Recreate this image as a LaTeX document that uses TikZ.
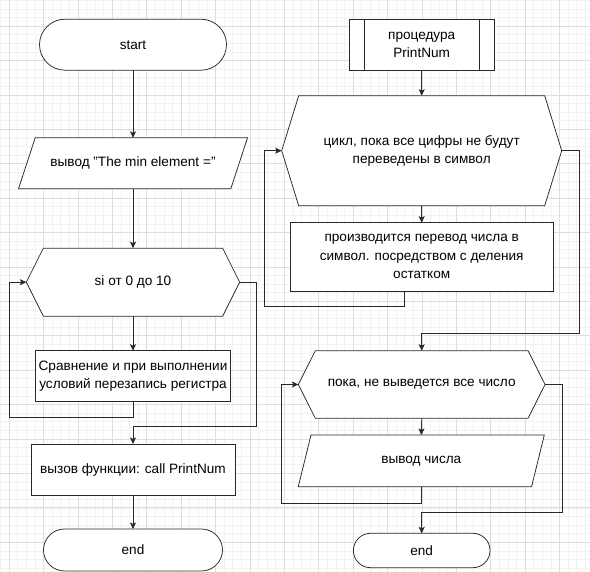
\documentclass[tikz,border=0pt]{standalone}
\usepackage{fontspec}
\setmainfont{Liberation Sans}
\usetikzlibrary{positioning,calc,shapes.misc,arrows.meta}

\definecolor{gridminor}{RGB}{242,242,242}
\definecolor{gridmajor}{RGB}{222,222,222}
\definecolor{linegray}{RGB}{40,40,40}

\tikzset{
	shapeline/.style={draw=linegray,line width=0.75pt},
	arr/.style={shapeline,-{Stealth[length=6.5pt,width=6pt,inset=1.5pt]}},
	txt/.style={font=\fontsize{13.6}{18.5}\selectfont,align=center,inner sep=0pt,outer sep=0pt},
	term/.style={txt,rounded rectangle,shapeline,fill=white},
	procbox/.style={txt,rectangle,shapeline,fill=white},
	subproc/.style={procbox,path picture={
		\draw[shapeline] ([xshift=14.7pt]path picture bounding box.north west) -- ([xshift=14.7pt]path picture bounding box.south west);
		\draw[shapeline] ([xshift=-14.7pt]path picture bounding box.north east) -- ([xshift=-14.7pt]path picture bounding box.south east);}},
	hexbox/.style={txt,append after command={\pgfextra{
		\filldraw[shapeline,fill=white] (\tikzlastnode.west) -- ([xshift=17pt]\tikzlastnode.north west) -- ([xshift=-17pt]\tikzlastnode.north east)
		 -- (\tikzlastnode.east) -- ([xshift=-17pt]\tikzlastnode.south east) -- ([xshift=17pt]\tikzlastnode.south west) -- cycle;}}},
	iobox/.style={txt,append after command={\pgfextra{
		\filldraw[shapeline,fill=white] ([xshift=#1]\tikzlastnode.north west) -- (\tikzlastnode.north east)
		 -- ([xshift=-#1]\tikzlastnode.south east) -- (\tikzlastnode.south west) -- cycle;}}},
}

\begin{document}
\begin{tikzpicture}[x=1pt,y=-1pt]
	\useasboundingbox[fill=white] (0,0) rectangle (590,572);
	% grid
	\foreach \k in {0,...,68} \draw[gridminor,line width=0.6pt] ({0.4+8.6*\k},0) -- ++(0,572);
	\foreach \k in {0,...,66} \draw[gridminor,line width=0.6pt] (0,{0.4+8.6*\k}) -- ++(590,0);
	\foreach \k in {0,...,16} \draw[gridmajor,line width=0.6pt] ({9+34.4*\k},0) -- ++(0,572);
	\foreach \k in {0,...,15} \draw[gridmajor,line width=0.6pt] (0,{26.2+34.4*\k}) -- ++(590,0);

	% main
	\node[term,minimum width=187,minimum height=51] (start) at (133,44.7) {start};
	\node[iobox=16.7pt,minimum width=229,minimum height=51] (outmsg) at (133,163.3) {вывод "The min element ="};
	\node[hexbox,minimum width=213.3,minimum height=68] (loopi) at (133,282.2) {si от 0 до 10};
	\node[procbox,minimum width=195,minimum height=51] (cmp) at (133,376.2) {Сравнение и при выполнении\\условий перезапись регистра};
	\node[procbox,minimum width=204,minimum height=51] (call) at (133,469.5) {вызов функции: call PrintNum};
	\node[term,minimum width=179,minimum height=42] (endl) at (133,550) {end};

	\draw[arr] (start.south) -- (outmsg.north);
	\draw[arr] (outmsg.south) -- (loopi.north);
	\draw[arr] (loopi.south) -- (cmp.north);
	\draw[arr] (cmp.south) -- ++(0,16) -| ($(loopi.west)+(-16.7,0)$) -- (loopi.west);
	\draw[arr] (loopi.east) -- ++(16.7,0) |- ($(call.north)+(0,-17.3)$) -- (call.north);
	\draw[arr] (call.south) -- (endl.north);

	% PrintNum
	\node[subproc,minimum width=144.7,minimum height=51] (proc) at (421.7,44.7) {процедура\\PrintNum};
	\node[hexbox,minimum width=280,minimum height=110] (loopd) at (421.7,150.7) {цикл, пока все цифры не будут\\переведены в символ};
	\node[procbox,minimum width=263.3,minimum height=68.3] (conv) at (421.7,256.8) {производится перевод числа в\\символ. посредством с деления\\остатком};
	\node[hexbox,minimum width=246.7,minimum height=67.6] (loopo) at (421.7,384.5) {пока, не выведется все число};
	\node[iobox=12.7pt,minimum width=246,minimum height=51.7] (outnum) at (421.3,460.8) {вывод числа};
	\node[term,minimum width=136.7,minimum height=34.4] (endr) at (421.7,550.5) {end};

	\draw[arr] (proc.south) -- (loopd.north);
	\draw[arr] (loopd.south) -- (conv.north);
	\draw[arr] ($(conv.south)+(-17.4,0)$) -- ++(0,15.7) -| ($(loopd.west)+(-17.4,0)$) -- (loopd.west);
	\draw[arr] (loopd.east) -- ++(17.3,0) |- ($(loopo.north)+(0,-17.4)$) -- (loopo.north);
	\draw[arr] (loopo.south) -- (outnum.north);
	\draw[arr] (outnum.south) -- ++(0,16.6) -| ($(loopo.west)+(-16.6,0)$) -- (loopo.west);
	\draw[arr] (loopo.east) -- ++(17.3,0) |- ($(endr.north)+(0,-21)$) -- (endr.north);
\end{tikzpicture}
\end{document}
